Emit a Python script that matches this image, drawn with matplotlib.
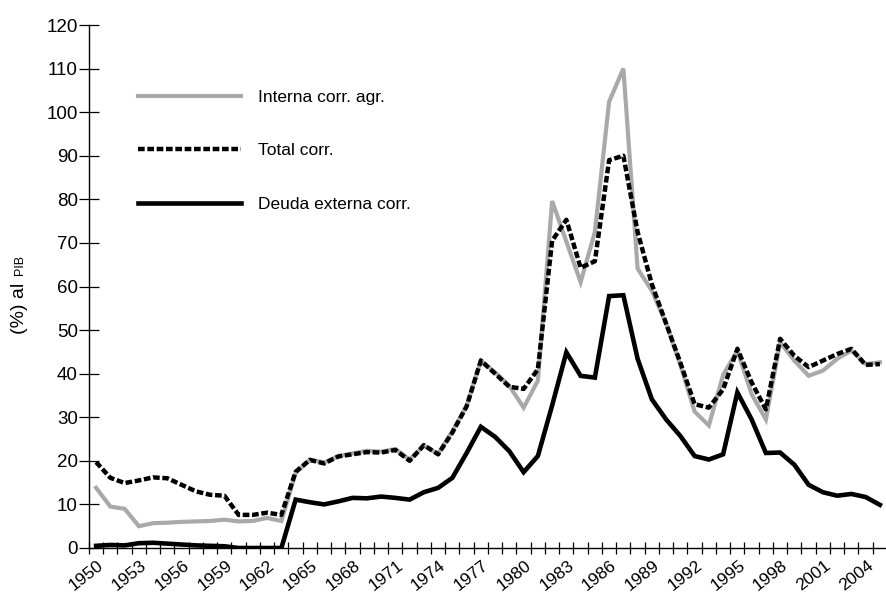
import matplotlib
matplotlib.use('Agg')
import matplotlib.pyplot as plt
import numpy as np

plt.rcParams['font.family'] = ['Liberation Sans', 'DejaVu Sans']

# Series, % of GDP, 1950-2005
years = list(range(1950, 2006))

interna = [13.8, 9.5, 9.0, 5.0, 5.7, 5.8, 6.0, 6.1, 6.2, 6.5,
           6.1, 6.2, 6.9, 6.2, 17.2, 20.3, 19.6, 21.1, 21.7, 22.3,
           22.1, 22.7, 20.3, 23.5, 21.6, 26.8, 32.6, 43.0, 40.3, 37.2,
           32.2, 38.4, 79.6, 70.3, 61.0, 72.5, 102.4, 110.0, 64.1, 59.0,
           51.5, 42.0, 31.3, 28.1, 39.7, 45.3, 35.3, 29.5, 47.2, 43.0,
           39.5, 40.7, 43.4, 45.3, 42.2, 42.6]

total = [19.7, 16.1, 14.9, 15.5, 16.2, 16.0, 14.5, 13.0, 12.2, 12.0,
         7.6, 7.6, 8.1, 7.6, 17.5, 20.2, 19.4, 21.0, 21.5, 22.0,
         21.9, 22.5, 20.0, 23.6, 21.5, 26.5, 32.5, 43.0, 40.0, 37.0,
         36.5, 41.0, 70.5, 75.3, 64.3, 65.8, 89.0, 90.0, 72.5, 60.5,
         51.5, 42.5, 33.0, 32.2, 36.4, 45.7, 38.0, 31.8, 48.0, 44.1,
         41.5, 43.0, 44.5, 45.7, 42.0, 42.2]

externa = [0.5, 0.7, 0.6, 1.1, 1.2, 1.0, 0.8, 0.6, 0.5, 0.4,
           0.0, 0.0, 0.0, 0.0, 11.1, 10.5, 10.0, 10.7, 11.5, 11.4,
           11.8, 11.5, 11.1, 12.8, 13.8, 16.1, 21.8, 27.8, 25.5, 22.2,
           17.4, 21.1, 32.7, 44.9, 39.5, 39.1, 57.8, 58.0, 43.4, 34.1,
           29.5, 25.7, 21.1, 20.3, 21.5, 35.7, 29.5, 21.8, 21.9, 19.1,
           14.5, 12.8, 12.0, 12.4, 11.7, 9.9]

labels = ['Interna corr. agr.', 'Total corr.', 'Deuda externa corr.']
label_years = list(range(1950, 2005, 3))
y_ticks = list(range(0, 121, 10))

W, H = 887, 593
fig = plt.figure(figsize=(W / 100, H / 100), dpi=100)
ax = fig.add_axes([89 / W, 45 / H, 798 / W, 523 / H])

ax.plot(years, interna, color='#a9a9a9', linewidth=3.0, solid_joinstyle='miter', label=labels[0])
ax.plot(years, total, color='black', linewidth=3.2, linestyle=(0, (1.5, 0.6)), label=labels[1])
ax.plot(years, externa, color='black', linewidth=3.3, solid_joinstyle='miter', label=labels[2])

ax.set_xlim(years[0] - 0.5, years[-1] + 0.5)
ax.set_ylim(0, 120)

for s in ['top', 'right']:
    ax.spines[s].set_visible(False)
ax.spines['left'].set_bounds(0, 120)
ax.spines['left'].set_linewidth(1.0)
ax.spines['bottom'].set_linewidth(1.0)

ax.set_yticks(y_ticks)
ax.tick_params(axis='y', direction='inout', length=14, width=0.9, labelsize=13.5, pad=1)

# tick marks on category boundaries, labels every third year
ax.set_xticks([y + 0.08 for y in label_years])
ax.set_xticklabels([str(y) for y in label_years], rotation=38, ha='right',
                   rotation_mode='anchor', fontsize=12.5)
ax.set_xticks([y - 0.5 for y in years] + [years[-1] + 0.5], minor=True)
ax.tick_params(axis='x', which='major', length=0, pad=7)
ax.tick_params(axis='x', which='minor', direction='inout', length=9, width=0.9)

leg = ax.legend(loc='upper left', bbox_to_anchor=(0.062, 0.876), frameon=False,
                fontsize=12.5, handlelength=5.9, handletextpad=1.0, labelspacing=2.2,
                borderpad=0, borderaxespad=0)

fig.text(20 / W, 1 - 334 / H, '(%) al', rotation=90, ha='center', va='bottom', fontsize=14)
fig.text(20 / W, 1 - 275 / H, 'PIB', rotation=90, ha='center', va='bottom', fontsize=9)

fig.savefig('out.png', dpi=100)
